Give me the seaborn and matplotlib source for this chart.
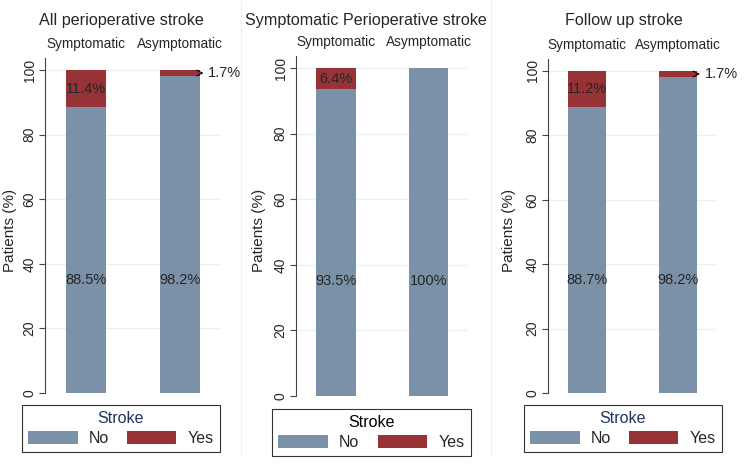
import numpy as np
import pandas as pd
import seaborn as sns
import matplotlib.pyplot as plt
from matplotlib.patches import Patch
from matplotlib.lines import Line2D

sns.set_style("white")
plt.rcParams['font.family'] = ['Liberation Sans', 'DejaVu Sans']

# data
titles = ['All perioperative stroke', 'Symptomatic Perioperative stroke', 'Follow up stroke']
groups = ['Symptomatic', 'Asymptomatic']
no_vals = [[88.5, 98.2], [93.5, 100.0], [88.7, 98.2]]
yes_vals = [[11.4, 1.7], [6.4, 0.0], [11.2, 1.7]]
no_labels = [['88.5%', '98.2%'], ['93.5%', '100%'], ['88.7%', '98.2%']]
yes_labels = [['11.4%', '1.7%'], ['6.4%', ''], ['11.2%', '1.7%']]

blue = '#7a91a8'
red = '#973236'
W, H = 748, 465

fig = plt.figure(figsize=(W / 100, H / 100), dpi=100)

# pixel layout: (axes left, right, top, bottom), title centre x, legend box (x0, x1, y0)
panels = [
    dict(ax=(45, 220, 58, 393), tx=121, leg=(22, 220, 405), ylx=10, tcol='#1f3560'),
    dict(ax=(296, 468, 56, 396), tx=366, leg=(272, 471, 409), ylx=259, tcol='black'),
    dict(ax=(548, 716, 59, 393), tx=624, leg=(524, 722, 405), ylx=509, tcol='#1f3560'),
]

for i, p in enumerate(panels):
    l, r, t, b = p['ax']
    ax = fig.add_axes([l / W, 1 - b / H, (r - l) / W, (b - t) / H])
    df = pd.DataFrame({'group': groups,
                       'no': no_vals[i],
                       'total': np.array(no_vals[i]) + np.array(yes_vals[i])})
    sns.barplot(data=df, x='group', y='total', color=red, saturation=1,
                width=0.42, linewidth=0, ax=ax)
    sns.barplot(data=df, x='group', y='no', color=blue, saturation=1,
                width=0.42, linewidth=0, ax=ax)
    ax.set_xlim(-0.43, 1.42)
    ax.set_ylim(0, 103.7)
    ax.set_yticks([0, 20, 40, 60, 80, 100])
    ax.set_yticklabels(['0', '20', '40', '60', '80', '100'], rotation=90,
                       va='center', fontsize=10)
    for yv in [0, 20, 40, 60, 80, 100]:
        ax.axhline(yv, color='#eaf0f2', lw=0.9, zorder=0)
    ax.tick_params(axis='y', length=4, width=0.8, color='#444444', pad=2, left=True)
    ax.xaxis.tick_top()
    ax.tick_params(axis='x', length=0, pad=5, labelsize=9.8)
    ax.set_xlabel('')
    ax.set_ylabel('')
    for s in ['top', 'right', 'bottom']:
        ax.spines[s].set_visible(False)
    ax.spines['left'].set_color('#444444')
    ax.spines['left'].set_linewidth(0.8)

    for j in range(2):
        ax.text(j, 35, no_labels[i][j], ha='center', va='center', fontsize=10.5)
        yv = yes_vals[i][j]
        if yv >= 5:
            ax.text(j, no_vals[i][j] + yv / 2, yes_labels[i][j], ha='center',
                    va='center', fontsize=10.5)
        elif yv > 0:
            ax.annotate(yes_labels[i][j], xy=(j + 0.21, no_vals[i][j] + yv / 2),
                        xytext=(j + 0.295, no_vals[i][j] + yv / 2),
                        ha='left', va='center', fontsize=10.5, annotation_clip=False,
                        arrowprops=dict(arrowstyle='<-', color='black', lw=0.7,
                                        shrinkA=1, shrinkB=0))

    fig.text(p['tx'] / W, 1 - 20 / H, titles[i], ha='center', va='center', fontsize=11.6)
    fig.text(p['ylx'] / W, 1 - 230 / H, 'Patients (%)', rotation=90,
             ha='center', va='center', fontsize=11)

    x0, x1, y0 = p['leg']
    handles = [Patch(facecolor=blue, edgecolor='none', label='No'),
               Patch(facecolor=red, edgecolor='none', label='Yes')]
    leg = fig.legend(handles=handles, loc='upper left', ncol=2, mode='expand',
                     bbox_to_anchor=(x0 / W, 1 - y0 / H, (x1 - x0) / W, 0.001),
                     title='Stroke', fontsize=11.5, title_fontsize=11.5,
                     frameon=True, fancybox=False, edgecolor='black',
                     handlelength=3.1, handleheight=0.95, handletextpad=0.7,
                     borderaxespad=0, borderpad=0.4, labelspacing=0.3)
    leg.get_frame().set_linewidth(0.8)
    leg.get_title().set_color(p['tcol'])

for xd in [241, 491]:
    fig.add_artist(Line2D([xd / W, xd / W], [0.02, 1.0], color='#eef2f4', lw=1))

fig.savefig('out.png', dpi=100)
